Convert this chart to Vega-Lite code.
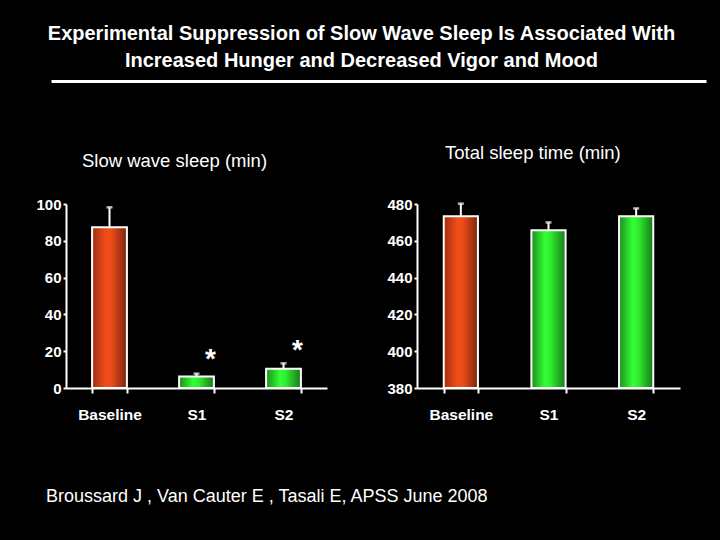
{
  "$schema": "https://vega.github.io/schema/vega-lite/v6.json",
  "background": "black",
  "padding": {"left": 35, "top": 24, "right": 0, "bottom": 45},
  "title": {
    "text": ["Experimental Suppression of Slow Wave Sleep Is Associated With", "Increased Hunger and Decreased Vigor and Mood"],
    "color": "white",
    "font": "Liberation Sans",
    "fontSize": 20,
    "fontWeight": "bold",
    "lineHeight": 27,
    "anchor": "middle",
    "offset": 5,
    "dx": -17
  },
  "spacing": 48,
  "vconcat": [
    {
      "width": 655,
      "height": 0,
      "data": {"values": [{"lo": 0}]},
      "mark": {"type": "point", "opacity": 0},
      "encoding": {
        "x": {"field": "lo", "type": "quantitative", "scale": {"domain": [0, 1]},
          "axis": {"labels": false, "ticks": false, "domain": true, "domainWidth": 3, "domainColor": "white", "grid": false, "title": null, "translate": -14.5}}
      }
    },
    {
      "title": {
        "text": "Broussard J , Van Cauter E , Tasali E, APSS June 2008",
        "orient": "bottom",
        "anchor": "start",
        "color": "white",
        "font": "Liberation Sans",
        "fontSize": 18,
        "fontWeight": "normal",
        "offset": 65,
        "dx": 10
      },
      "spacing": 59,
      "hconcat": [
        {
          "width": 261,
          "height": 184,
          "title": {"text": "Slow wave sleep (min)", "anchor": "start", "dx": 46, "offset": 26.5, "color": "white", "font": "Liberation Sans", "fontSize": 18.5, "fontWeight": "normal"},
          "data": {"values": [
            {"condition": "Baseline", "mean": 87.4, "err": 98.2, "star": null},
            {"condition": "S1", "mean": 6.3, "err": 7.8, "star": 18.6},
            {"condition": "S2", "mean": 10.5, "err": 13.4, "star": 23.5}
          ]},
          "encoding": {
            "x": {"field": "condition", "type": "nominal", "sort": null,
              "scale": {"paddingInner": 0.6, "paddingOuter": 0.3},
              "axis": {"tickBand": "extent", "labelAngle": 0}}
          },
          "layer": [
            {
              "mark": {"type": "rule", "color": "white", "strokeWidth": 2},
              "encoding": {
                "y": {"field": "mean", "type": "quantitative", "scale": {"domain": [0, 100], "nice": false},
                  "axis": {"values": [0, 20, 40, 60, 80, 100], "tickCount": 12}},
                "y2": {"field": "err"}
              }
            },
            {
              "mark": {"type": "tick", "color": "white", "thickness": 2.5, "size": 6, "orient": "horizontal"},
              "encoding": {"y": {"field": "err", "type": "quantitative"}}
            },
            {
              "transform": [{"filter": "datum.condition === 'Baseline'"}],
              "mark": {"type": "bar", "stroke": "white", "strokeWidth": 2,
                "fill": {"gradient": "linear", "x1": 0, "x2": 1, "y1": 0, "y2": 0,
                  "stops": [{"offset": 0, "color": "#a02c12"}, {"offset": 0.4, "color": "#f24e1a"}, {"offset": 0.55, "color": "#ee4c18"}, {"offset": 1, "color": "#7a2410"}]}},
              "encoding": {"y": {"field": "mean", "type": "quantitative"}}
            },
            {
              "transform": [{"filter": "datum.condition !== 'Baseline'"}],
              "mark": {"type": "bar", "stroke": "white", "strokeWidth": 2,
                "fill": {"gradient": "linear", "x1": 0, "x2": 1, "y1": 0, "y2": 0,
                  "stops": [{"offset": 0, "color": "#1c8c1c"}, {"offset": 0.4, "color": "#33ff33"}, {"offset": 0.55, "color": "#30f030"}, {"offset": 1, "color": "#187818"}]}},
              "encoding": {"y": {"field": "mean", "type": "quantitative"}}
            },
            {
              "transform": [{"filter": "datum.star != null"}],
              "mark": {"type": "text", "text": "*", "color": "white", "font": "Liberation Sans", "fontSize": 28, "fontWeight": "bold", "baseline": "middle", "dx": 14, "dy": 6},
              "encoding": {"y": {"field": "star", "type": "quantitative"}}
            }
          ]
        },
        {
          "width": 263,
          "height": 184,
          "title": {"text": "Total sleep time (min)", "anchor": "start", "dx": 58, "offset": 34.5, "color": "white", "font": "Liberation Sans", "fontSize": 18.5, "fontWeight": "normal"},
          "data": {"values": [
            {"condition": "Baseline", "mean": 473.4, "err": 480.2},
            {"condition": "S1", "mean": 465.8, "err": 470.0},
            {"condition": "S2", "mean": 473.4, "err": 477.6}
          ]},
          "encoding": {
            "x": {"field": "condition", "type": "nominal", "sort": null,
              "scale": {"paddingInner": 0.61, "paddingOuter": 0.305},
              "axis": {"tickBand": "extent", "labelAngle": 0}}
          },
          "layer": [
            {
              "mark": {"type": "rule", "color": "white", "strokeWidth": 2},
              "encoding": {
                "y": {"field": "mean", "type": "quantitative", "scale": {"domain": [380, 480], "nice": false, "zero": false},
                  "axis": {"values": [380, 400, 420, 440, 460, 480], "tickCount": 12}},
                "y2": {"field": "err"}
              }
            },
            {
              "mark": {"type": "tick", "color": "white", "thickness": 2.5, "size": 6, "orient": "horizontal"},
              "encoding": {"y": {"field": "err", "type": "quantitative"}}
            },
            {
              "transform": [{"filter": "datum.condition === 'Baseline'"}],
              "mark": {"type": "bar", "stroke": "white", "strokeWidth": 2,
                "fill": {"gradient": "linear", "x1": 0, "x2": 1, "y1": 0, "y2": 0,
                  "stops": [{"offset": 0, "color": "#a02c12"}, {"offset": 0.4, "color": "#f24e1a"}, {"offset": 0.55, "color": "#ee4c18"}, {"offset": 1, "color": "#7a2410"}]}},
              "encoding": {"y": {"field": "mean", "type": "quantitative"}, "y2": {"datum": 380}}
            },
            {
              "transform": [{"filter": "datum.condition !== 'Baseline'"}],
              "mark": {"type": "bar", "stroke": "white", "strokeWidth": 2,
                "fill": {"gradient": "linear", "x1": 0, "x2": 1, "y1": 0, "y2": 0,
                  "stops": [{"offset": 0, "color": "#1c8c1c"}, {"offset": 0.4, "color": "#33ff33"}, {"offset": 0.55, "color": "#30f030"}, {"offset": 1, "color": "#187818"}]}},
              "encoding": {"y": {"field": "mean", "type": "quantitative"}, "y2": {"datum": 380}}
            }
          ]
        }
      ]
    }
  ],
  "config": {
    "view": {"stroke": null},
    "axis": {
      "title": null,
      "grid": false,
      "labelColor": "white",
      "labelFont": "Liberation Sans",
      "labelFontSize": 15,
      "labelFontWeight": "bold",
      "labelOverlap": false,
      "domainColor": "white",
      "domainWidth": 2,
      "tickColor": "white",
      "tickWidth": 2
    },
    "axisX": {"tickSize": 5, "labelPadding": 14, "labelFontSize": 15.5},
    "axisY": {"tickSize": 3, "labelPadding": 2}
  }
}
